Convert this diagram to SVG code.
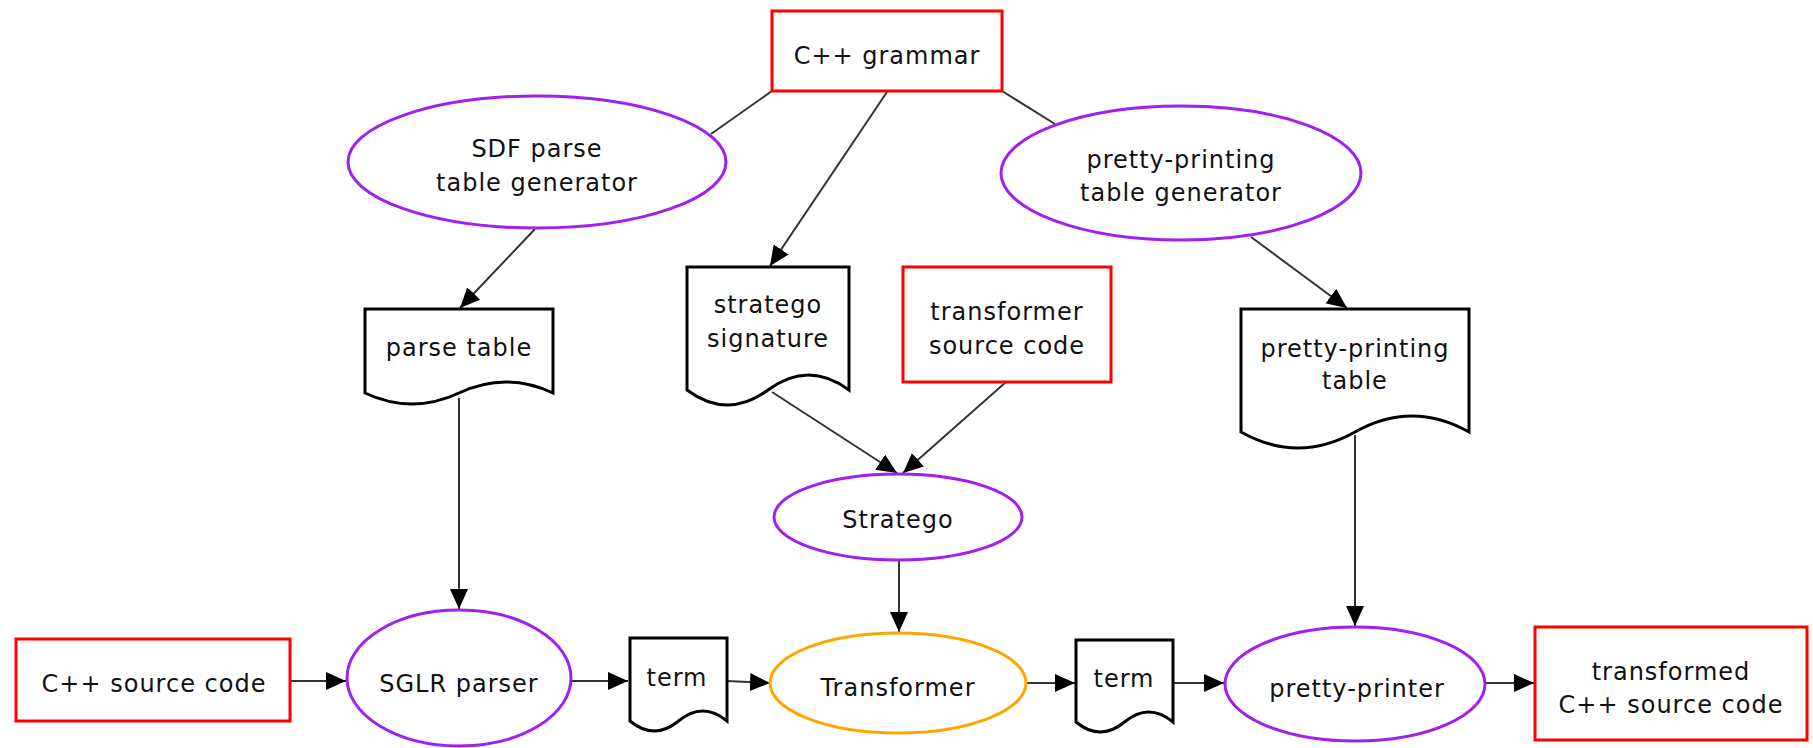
<svg xmlns="http://www.w3.org/2000/svg" width="1813" height="748" viewBox="0 0 1813 748">
<style>
text{font-family:"DejaVu Sans","Liberation Sans",sans-serif;font-size:24px;letter-spacing:1px;fill:#111;text-anchor:middle}
.proc{fill:#fff;stroke:#a020f0;stroke-width:3}
.main{fill:#fff;stroke:#ffa500;stroke-width:3}
.src{fill:#fff;stroke:#ff0000;stroke-width:3}
.doc{fill:#fff;stroke:#000;stroke-width:3;stroke-linejoin:miter}
.edge{fill:none;stroke:#333;stroke-width:2}
.arr{marker-end:url(#ah)}
</style>
<defs>
<marker id="ah" markerUnits="userSpaceOnUse" markerWidth="20" markerHeight="18" refX="20" refY="9" orient="auto">
<path d="M0,0 L20,9 L0,18 Z" fill="#000"/>
</marker>
</defs>
<g id="connectors">
<line class="edge" x1="772" y1="91" x2="711" y2="134"/>
<line class="edge" x1="1002" y1="91" x2="1055" y2="124"/>
<line class="edge arr" x1="887" y1="92" x2="770" y2="266"/>
<line class="edge arr" x1="535" y1="229" x2="460" y2="308"/>
<line class="edge arr" x1="1251" y1="237" x2="1347" y2="308"/>
<line class="edge arr" x1="459" y1="398" x2="459" y2="609"/>
<line class="edge arr" x1="772" y1="392" x2="897" y2="473"/>
<line class="edge arr" x1="1006" y1="382" x2="903" y2="473"/>
<line class="edge arr" x1="899" y1="560" x2="899" y2="632"/>
<line class="edge arr" x1="1355" y1="435" x2="1355" y2="626"/>
<line class="edge arr" x1="290" y1="681" x2="346" y2="681"/>
<line class="edge arr" x1="570" y1="681" x2="628" y2="681"/>
<line class="edge arr" x1="727" y1="681" x2="770" y2="683"/>
<line class="edge arr" x1="1027" y1="683" x2="1075" y2="683"/>
<line class="edge arr" x1="1173" y1="683" x2="1224" y2="683"/>
<line class="edge arr" x1="1486" y1="683" x2="1534" y2="683"/>
</g>
<g id="cpp-grammar">
<rect class="src" x="772" y="11" width="230" height="80"/>
<text x="887" y="64">C++ grammar</text>
</g>
<g id="sdf-generator">
<ellipse class="proc" cx="537" cy="162" rx="189" ry="66"/>
<text x="537" y="157">SDF parse</text>
<text x="537" y="191">table generator</text>
</g>
<g id="pp-generator">
<ellipse class="proc" cx="1181" cy="173" rx="180" ry="67"/>
<text x="1181" y="168">pretty-printing</text>
<text x="1181" y="201">table generator</text>
</g>
<g id="parse-table">
<path class="doc" d="M365,309 H553 V393 Q506,371 459,393 Q412,415 365,393 Z"/>
<text x="459" y="356">parse table</text>
</g>
<g id="stratego-signature">
<path class="doc" d="M687,267 H849 V390 Q808.5,360 768,390 Q727.5,420 687,390 Z"/>
<text x="768" y="313">stratego</text>
<text x="768" y="347">signature</text>
</g>
<g id="transformer-source">
<rect class="src" x="903" y="267" width="208" height="115"/>
<text x="1007" y="320">transformer</text>
<text x="1007" y="354">source code</text>
</g>
<g id="pp-table">
<path class="doc" d="M1241,309 H1469 V432 Q1412,400 1355,432 Q1298,464 1241,432 Z"/>
<text x="1355" y="357">pretty-printing</text>
<text x="1355" y="389">table</text>
</g>
<g id="stratego">
<ellipse class="proc" cx="898" cy="517" rx="124" ry="43"/>
<text x="898" y="528">Stratego</text>
</g>
<g id="cpp-source">
<rect class="src" x="16" y="639" width="274" height="82"/>
<text x="154" y="692">C++ source code</text>
</g>
<g id="sglr-parser">
<ellipse class="proc" cx="459" cy="678" rx="112" ry="68"/>
<text x="459" y="692">SGLR parser</text>
</g>
<g id="term1">
<path class="doc" d="M630,638 H727 V721 Q702.75,701 678.5,721 Q654.25,741 630,721 Z"/>
<text x="677" y="686">term</text>
</g>
<g id="transformer">
<ellipse class="main" cx="898" cy="683" rx="128" ry="50"/>
<text x="898" y="696">Transformer</text>
</g>
<g id="term2">
<path class="doc" d="M1076,640 H1173 V722 Q1148.75,702 1124.5,722 Q1100.25,742 1076,722 Z"/>
<text x="1124" y="687">term</text>
</g>
<g id="pretty-printer">
<ellipse class="proc" cx="1355" cy="684" rx="130" ry="57"/>
<text x="1357" y="697">pretty-printer</text>
</g>
<g id="transformed-source">
<rect class="src" x="1535" y="627" width="272" height="113"/>
<text x="1671" y="680">transformed</text>
<text x="1671" y="713">C++ source code</text>
</g>
</svg>
